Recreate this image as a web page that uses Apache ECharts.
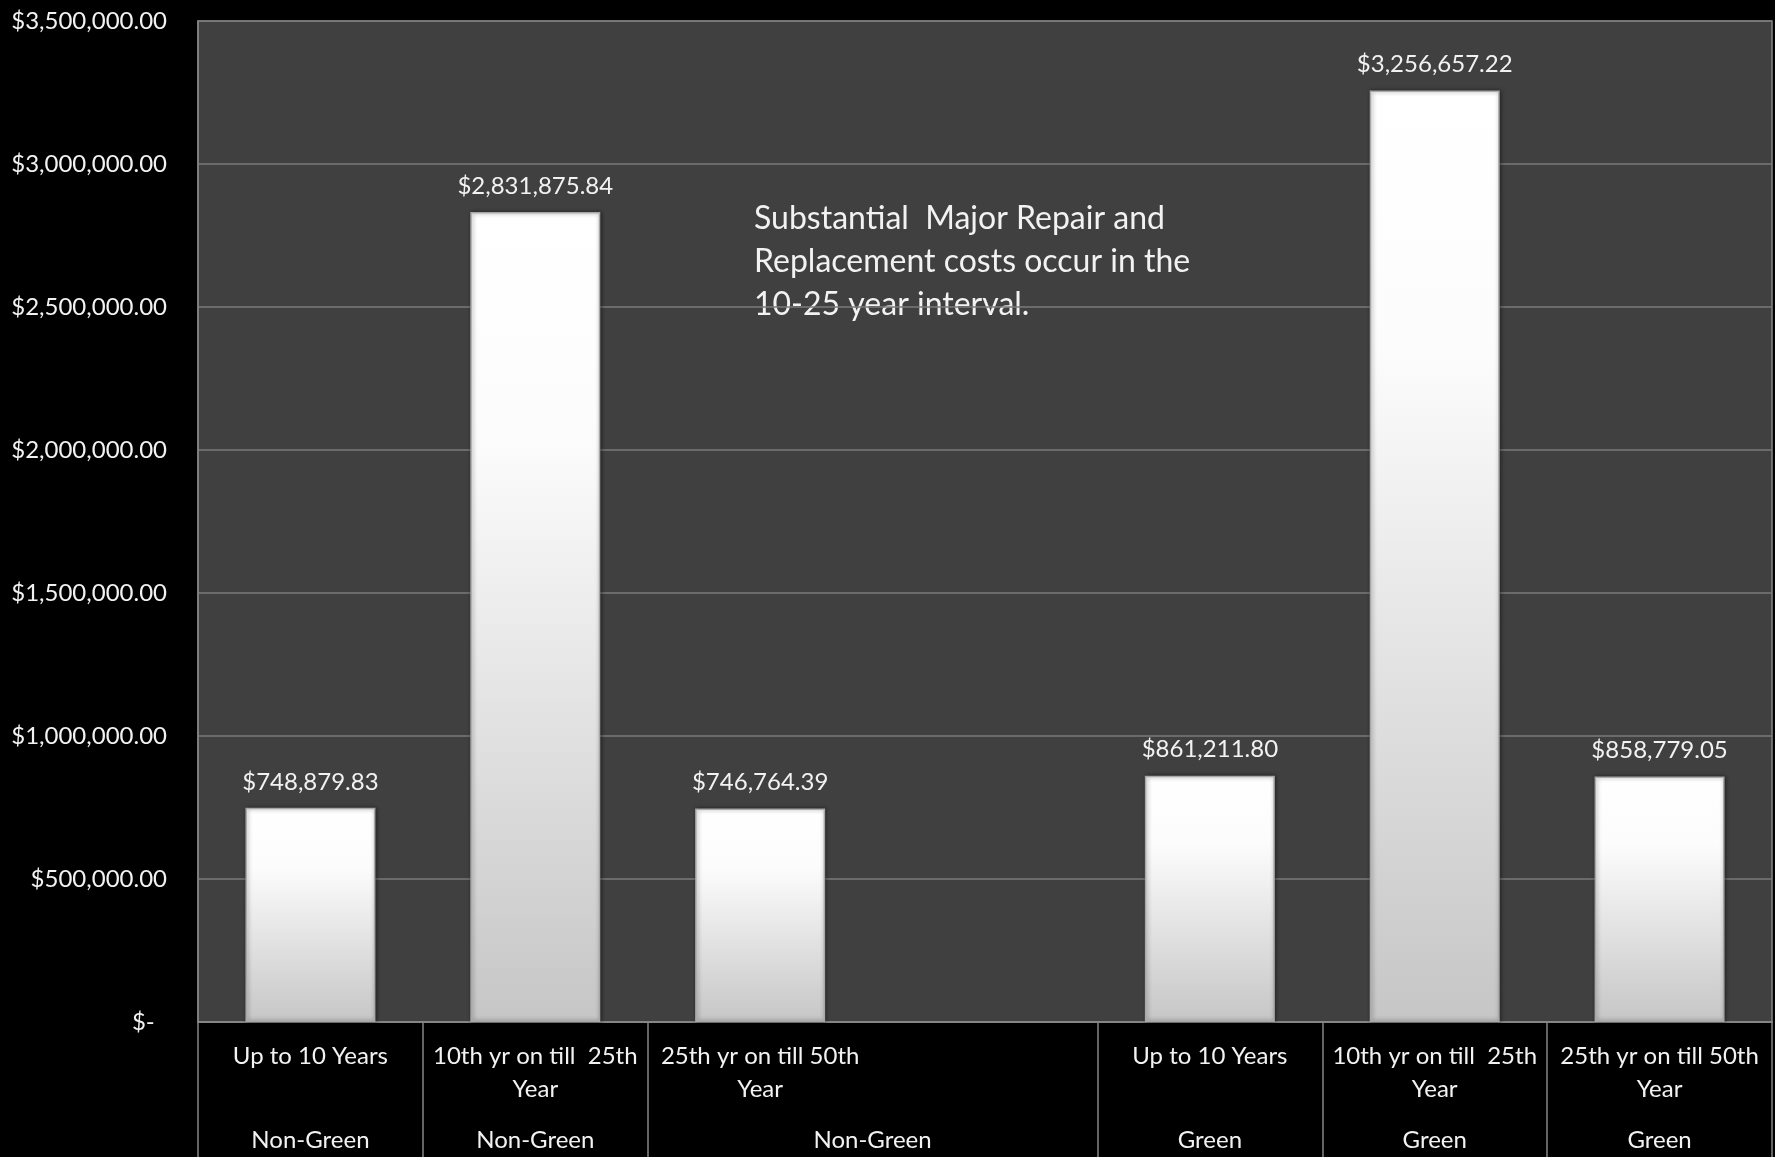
<!DOCTYPE html>
<html>
<head>
<meta charset="utf-8">
<script src="https://cdn.jsdelivr.net/npm/echarts@6/dist/echarts.min.js"></script>
<style>
  html, body { margin: 0; padding: 0; background: #000; }
  #chart { width: 1775px; height: 1157px; }
</style>
</head>
<body>
<div id="chart"></div>
<script>
// Period labels (first axis level); the empty slot separates the two building types
const periodLabels = [
  'Up to 10 Years',
  '10th yr on till  25th\nYear',
  '25th yr on till 50th\nYear',
  '',
  'Up to 10 Years',
  '10th yr on till  25th\nYear',
  '25th yr on till 50th\nYear'
];
// Building type labels (second axis level), placed on half-slot positions
const typeLabels = ['', 'Non-Green', '', 'Non-Green', '', '', 'Non-Green', '', '', 'Green', '', 'Green', '', 'Green', ''];
// Major repair & replacement cost per period
const costs = [748879.83, 2831875.84, 746764.39, null, 861211.80, 3256657.22, 858779.05];
// Value axis ticks
const yMin = 0;
const yMax = 3500000;
const yStep = 500000;
const noteLines = [
  'Substantial  Major Repair and',
  'Replacement costs occur in the',
  '10-25 year interval.'
];

const FONT = 'Lato, "Open Sans", sans-serif';

function money(v) {
  if (v === 0) return '$-  ';
  return '$' + Number(v).toLocaleString('en-US', { minimumFractionDigits: 2, maximumFractionDigits: 2 });
}

const chart = echarts.init(document.getElementById('chart'));
chart.setOption({
  backgroundColor: '#000000',
  animation: false,
  grid: {
    left: 198, top: 21, right: -2, bottom: 135,
    show: true,
    backgroundColor: '#404040',
    borderColor: '#858585',
    borderWidth: 1.5
  },
  xAxis: [
    {
      type: 'category',
      data: periodLabels,
      boundaryGap: true,
      axisLine: { show: true, lineStyle: { color: '#858585', width: 2 } },
      axisTick: {
        show: true,
        length: 140,
        lineStyle: { color: '#858585', width: 1.5 },
        interval: function (index) { return index !== 3; }
      },
      axisLabel: {
        interval: 0,
        margin: 18,
        color: '#f2f2f2',
        fontFamily: FONT,
        fontSize: 24,
        lineHeight: 33,
        align: 'center'
      }
    },
    {
      type: 'category',
      data: typeLabels,
      boundaryGap: false,
      position: 'bottom',
      axisLine: { show: false },
      axisTick: { show: false },
      axisLabel: {
        interval: 0,
        margin: 106,
        color: '#f2f2f2',
        fontFamily: FONT,
        fontSize: 24
      }
    }
  ],
  yAxis: {
    type: 'value',
    min: yMin,
    max: yMax,
    interval: yStep,
    axisLine: { show: true, lineStyle: { color: '#858585', width: 1.5 } },
    axisTick: { show: false },
    splitLine: { show: true, lineStyle: { color: '#7a7a7a', width: 1.5 } },
    axisLabel: {
      margin: 31,
      color: '#f2f2f2',
      fontFamily: FONT,
      fontSize: 24,
      formatter: money
    }
  },
  series: [
    {
      type: 'bar',
      xAxisIndex: 0,
      data: costs,
      barWidth: 130,
      itemStyle: {
        color: new echarts.graphic.LinearGradient(0, 0, 0, 1, [
          { offset: 0, color: '#ffffff' },
          { offset: 0.28, color: '#fcfcfc' },
          { offset: 1, color: '#c6c6c6' }
        ]),
        borderColor: '#a8a8a8',
        borderWidth: 1.5,
        shadowColor: 'rgba(0,0,0,0.45)',
        shadowBlur: 4,
        shadowOffsetX: 1,
        shadowOffsetY: 0
      },
      label: {
        show: true,
        position: 'top',
        distance: 14,
        color: '#f2f2f2',
        fontFamily: FONT,
        fontSize: 24,
        formatter: function (p) { return money(p.value); }
      }
    }
  ],
  graphic: [
    {
      type: 'text',
      left: 754,
      top: 197,
      style: {
        text: noteLines.join('\n'),
        fill: '#f2f2f2',
        font: '32px ' + FONT,
        lineHeight: 43
      }
    }
  ]
});
</script>
</body>
</html>
